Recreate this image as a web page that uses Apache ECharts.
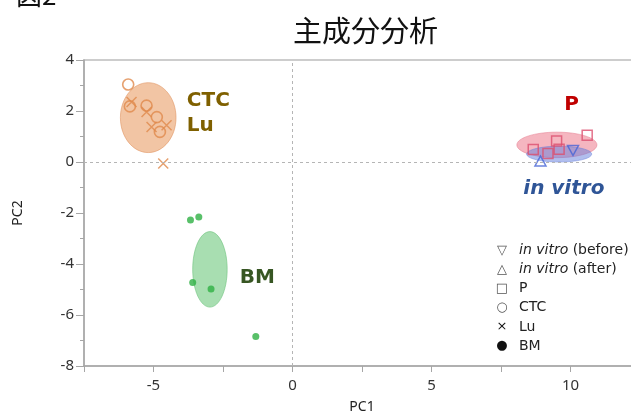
<!DOCTYPE html>
<html>
<head>
<meta charset="utf-8">
<script src="https://cdn.jsdelivr.net/npm/echarts@6/dist/echarts.min.js"></script>
<style>
html,body{margin:0;padding:0;background:#fff;}
#chart{width:631px;height:414px;}
</style>
</head>
<body>
<div id="chart"></div>
<script>
// ---- data ----
const xTickLabels = [-5, 0, 5, 10];
const yTickLabels = [-8, -6, -4, -2, 0, 2, 4];
const ctc = [[-5.91, 3.04], [-5.85, 2.18], [-5.25, 2.21], [-4.88, 1.76], [-4.77, 1.18]];
const lu = [[-5.79, 2.35], [-5.25, 1.96], [-5.07, 1.37], [-4.53, 1.44], [-4.65, -0.06]];
const bm = [[-3.67, -2.27], [-3.37, -2.16], [-3.59, -4.73], [-2.93, -4.98], [-1.32, -6.84]];
const pSamples = [[8.66, 0.49], [9.50, 0.82], [9.19, 0.33], [9.59, 0.50], [10.60, 1.05]];
const vitroBefore = [[10.09, 0.45]];
const vitroAfter = [[8.92, 0.04]];
// ellipses: [centerX, centerY, radiusX, radiusY]
const ellipseCtcLu = [-5.19, 1.74, 1.0, 1.37];
const ellipseBm = [-2.97, -4.21, 0.62, 1.48];
const ellipseP = [9.51, 0.67, 1.44, 0.50];
const ellipseVitro = [9.59, 0.31, 1.17, 0.31];
// group labels: [x, y, text]
const groupLabels = [
  [-3.80, 2.40, 'CTC'],
  [-3.80, 1.42, 'Lu'],
  [-1.90, -4.53, 'BM'],
  [10.04, 2.26, 'P'],
  [9.76, -1.05, 'in vitro']
];
const legendItems = [
  ['▽', 'in vitro', ' (before)'],
  ['△', 'in vitro', ' (after)'],
  ['□', '', 'P'],
  ['○', '', 'CTC'],
  ['×', '', 'Lu'],
  ['●', '', 'BM']
];

// ---- styles ----
const labelStyles = {
  'CTC': {fill: '#7f6000', fontStyle: 'normal', align: 'left'},
  'Lu': {fill: '#7f6000', fontStyle: 'normal', align: 'left'},
  'BM': {fill: '#375623', fontStyle: 'normal', align: 'left'},
  'P': {fill: '#c00000', fontStyle: 'normal', align: 'center'},
  'in vitro': {fill: '#2f5597', fontStyle: 'italic', align: 'center'}
};

function ellipseSeries(data, fill, stroke) {
  return {
    type: 'custom',
    silent: true,
    z: 1,
    data: [data],
    renderItem: function (params, api) {
      const c = api.coord([api.value(0), api.value(1)]);
      const s = api.size([api.value(2), api.value(3)]);
      return {
        type: 'ellipse',
        shape: {cx: c[0], cy: c[1], rx: s[0], ry: s[1]},
        style: {fill: fill, stroke: stroke, lineWidth: 1}
      };
    }
  };
}

const axisGray = '#a6a6a6';
const font = '"Noto Sans", "Noto Sans CJK JP", sans-serif';
const wideFont = '"DejaVu Sans", sans-serif';

const chart = echarts.init(document.getElementById('chart'), null, {renderer: 'canvas'});

const legendGraphics = legendItems.map(function (it, i) {
  const y = 250.5 + i * 19.1;
  return {
    type: 'group',
    children: [
      {type: 'text', x: 502, y: y, style: {text: it[0], fill: it[0] === '×' || it[0] === '●' ? '#111' : '#555', font: '13px "DejaVu Sans"', align: 'center', verticalAlign: 'middle'}},
      {type: 'text', x: 519, y: y, style: {
        text: (it[1] ? '{i|' + it[1] + '}' : '') + '{n|' + it[2] + '}',
        verticalAlign: 'middle', align: 'left',
        rich: {
          i: {fontStyle: 'italic', fontSize: 14, fontFamily: wideFont, fill: '#222'},
          n: {fontSize: 14, fontFamily: wideFont, fill: '#222'}
        }
      }}
    ]
  };
});

chart.setOption({
  backgroundColor: '#fff',
  animation: false,
  title: {
    text: '主成分分析',
    left: 293, top: 16, padding: 0,
    textStyle: {fontSize: 29, fontWeight: 'normal', color: '#111', fontFamily: '"Noto Sans CJK JP", sans-serif'}
  },
  grid: {left: 84, top: 60, width: 556, height: 306, outerBoundsMode: 'none', containLabel: false,
    show: true, borderColor: '#bdbdbd', borderWidth: 1.5, backgroundColor: 'transparent'},
  xAxis: {
    type: 'value', min: -7.5, max: 12.5, interval: 2.5,
    name: 'PC1', nameLocation: 'middle', nameGap: 34,
    nameTextStyle: {fontSize: 14, color: '#222', fontFamily: font},
    axisLine: {show: true, onZero: false, lineStyle: {color: axisGray, width: 1.5}},
    axisTick: {show: true, length: 6, lineStyle: {color: axisGray}},
    axisLabel: {
      margin: 12, fontSize: 15, color: '#333', fontFamily: font,
      formatter: function (v) { return xTickLabels.indexOf(v) >= 0 ? String(v) : ''; }
    },
    splitLine: {show: false}
  },
  yAxis: {
    type: 'value', min: -8, max: 4, interval: 2,
    name: 'PC2', nameLocation: 'middle', nameGap: 59, nameRotate: 90,
    nameTextStyle: {fontSize: 14, color: '#222', fontFamily: font},
    axisLine: {show: true, onZero: false, lineStyle: {color: axisGray, width: 1.5}},
    axisTick: {show: true, length: 8, lineStyle: {color: axisGray}},
    minorTick: {show: true, splitNumber: 2, length: 4, lineStyle: {color: axisGray}},
    axisLabel: {
      margin: 10, fontSize: 15, color: '#333', fontFamily: font,
      formatter: function (v) { return yTickLabels.indexOf(v) >= 0 ? String(v) : ''; }
    },
    splitLine: {show: false}
  },
  graphic: [
    {type: 'text', left: 16, top: -18, style: {text: '図2', font: '26px "Noto Sans CJK JP"', fill: '#111'}}
  ].concat(legendGraphics),
  series: [
    ellipseSeries(ellipseCtcLu, 'rgba(232,150,90,0.55)', 'rgba(225,150,100,0.6)'),
    ellipseSeries(ellipseBm, 'rgba(110,200,125,0.6)', 'rgba(110,195,125,0.6)'),
    ellipseSeries(ellipseP, 'rgba(235,110,130,0.5)', 'rgba(230,120,140,0.5)'),
    ellipseSeries(ellipseVitro, 'rgba(100,125,220,0.5)', 'rgba(100,125,220,0.5)'),
    {
      name: 'CTC', type: 'scatter', data: ctc, symbol: 'circle', symbolSize: 11, z: 3,
      itemStyle: {color: 'rgba(0,0,0,0)', borderColor: '#e08a4c', borderWidth: 1.6},
      markLine: {
        silent: true, symbol: 'none', label: {show: false},
        lineStyle: {type: [3, 3], color: '#b5b5b5', width: 1},
        data: [{xAxis: 0}, {yAxis: 0}]
      }
    },
    {
      name: 'Lu', type: 'scatter', data: lu, symbol: 'path://M0,0L10,10M10,0L0,10', symbolSize: 10, z: 3,
      itemStyle: {color: 'rgba(0,0,0,0)', borderColor: '#e08a4c', borderWidth: 1.5}
    },
    {
      name: 'BM', type: 'scatter', data: bm, symbol: 'circle', symbolSize: 7, z: 3,
      itemStyle: {color: '#2eb043'}
    },
    {
      name: 'P', type: 'scatter', data: pSamples, symbol: 'rect', symbolSize: 10, z: 3,
      itemStyle: {color: 'rgba(0,0,0,0)', borderColor: '#dc4f6e', borderWidth: 1.5}
    },
    {
      name: 'in vitro (before)', type: 'scatter', data: vitroBefore, symbol: 'path://M0,0L10,0L5,9Z', symbolSize: [11, 10], z: 3,
      itemStyle: {color: 'rgba(0,0,0,0)', borderColor: '#4664d6', borderWidth: 1.5}
    },
    {
      name: 'in vitro (after)', type: 'scatter', data: vitroAfter, symbol: 'triangle', symbolSize: [11, 10], z: 3,
      itemStyle: {color: 'rgba(0,0,0,0)', borderColor: '#4664d6', borderWidth: 1.5}
    },
    {
      type: 'custom', silent: true, z: 4,
      data: groupLabels,
      renderItem: function (params, api) {
        const item = groupLabels[params.dataIndex];
        const p = api.coord([item[0], item[1]]);
        const st = labelStyles[item[2]];
        return {
          type: 'text', x: p[0], y: p[1],
          style: {
            text: item[2], fill: st.fill, fontSize: 20, fontWeight: 'bold',
            fontStyle: st.fontStyle, fontFamily: wideFont,
            align: st.align, verticalAlign: 'middle'
          }
        };
      }
    }
  ]
});
</script>
</body>
</html>
